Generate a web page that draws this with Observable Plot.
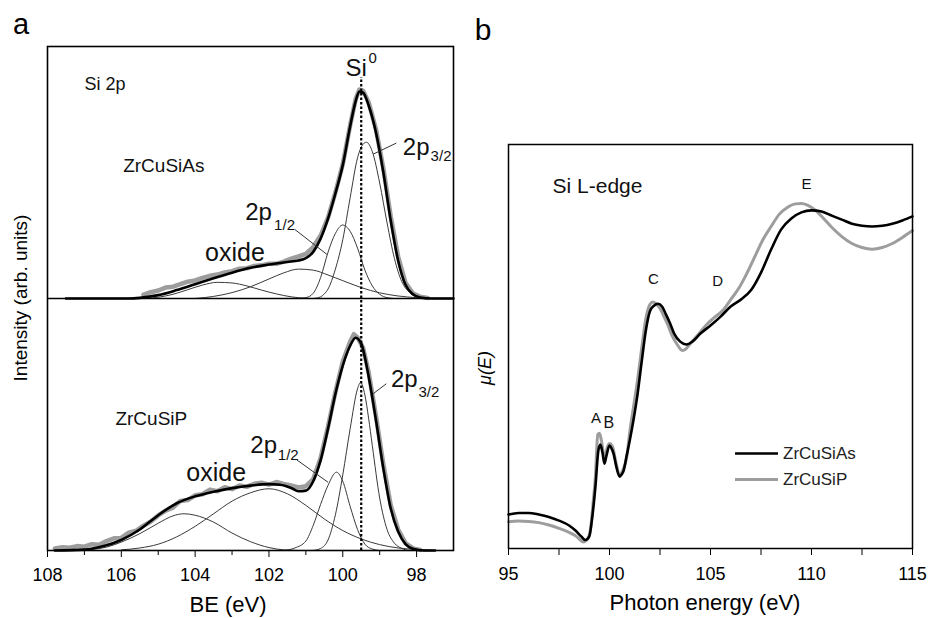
<!DOCTYPE html>
<html><head><meta charset="utf-8">
<script src="https://cdn.jsdelivr.net/npm/d3@7"></script>
<script src="https://cdn.jsdelivr.net/npm/@observablehq/plot@0.6"></script>
<style>
body{margin:0;background:#fff;}
#wrap{position:relative;width:929px;height:618px;overflow:hidden;font-family:"Liberation Sans",Arial,sans-serif;background:#fff;}
#wrap svg{position:absolute;top:0;}
</style></head><body><div id="wrap"></div>
<script>
const FONT = '"Liberation Sans", Arial, sans-serif';

// ---------- tick labels ----------
const beTicks = [108, 106, 104, 102, 100, 98];
const beMinorTicks = [107, 105, 103, 101, 99];
const peTicks = [95, 100, 105, 110, 115];
const peMinorTicks = [97.5, 102.5, 107.5, 112.5];
const samples = ["ZrCuSiAs", "ZrCuSiP"];
const si0BE = 99.5;

// ---------- panel a: XPS Si 2p, [BE (eV), intensity] ----------
const asData = [[105.4,0.018],[105.2,0.03],[105.0,0.038],[104.8,0.052],[104.6,0.056],[104.4,0.068],[104.2,0.08],[104.0,0.086],[103.8,0.098],[103.6,0.108],[103.4,0.114],[103.2,0.124],[103.0,0.13],[102.8,0.142],[102.6,0.144],[102.4,0.155],[102.2,0.158],[102.0,0.166],[101.8,0.165],[101.6,0.176],[101.4,0.19],[101.2,0.2],[101.0,0.212],[100.8,0.245],[100.6,0.3],[100.4,0.385],[100.2,0.505],[100.0,0.64],[99.8,0.825],[99.65,0.95],[99.55,0.995],[99.45,0.99],[99.3,0.935],[99.1,0.805],[98.9,0.62],[98.7,0.39],[98.5,0.2],[98.3,0.075],[98.1,0.025],[97.9,0.008],[97.7,0.003]];
const asEnvelope = [[107.5,0],[106.5,0],[105.8,0],[105.5,0.003],[105.0,0.016],[104.5,0.04],[104.0,0.068],[103.5,0.096],[103.0,0.123],[102.5,0.146],[102.0,0.162],[101.5,0.174],[101.2,0.181],[101.0,0.192],[100.8,0.222],[100.6,0.285],[100.4,0.38],[100.2,0.5],[100.0,0.635],[99.8,0.82],[99.65,0.94],[99.55,0.985],[99.45,0.98],[99.3,0.92],[99.1,0.79],[98.9,0.6],[98.7,0.37],[98.5,0.18],[98.3,0.065],[98.1,0.02],[97.9,0.005],[97.6,0],[97.0,0]];
const as2p32 = [[100.8,0],[100.6,0.008],[100.5,0.022],[100.4,0.045],[100.2,0.14],[100.0,0.28],[99.8,0.48],[99.6,0.67],[99.45,0.735],[99.36,0.744],[99.2,0.7],[99.0,0.55],[98.8,0.36],[98.6,0.19],[98.4,0.08],[98.2,0.03],[98.0,0.008],[97.8,0]];
const as2p12 = [[101.2,0],[101.0,0.004],[100.8,0.025],[100.6,0.1],[100.4,0.22],[100.2,0.31],[100.0,0.35],[99.8,0.32],[99.6,0.24],[99.4,0.135],[99.2,0.06],[99.0,0.02],[98.8,0.004],[98.6,0]];
const asOxideA = [[104.0,0],[103.5,0.01],[103.0,0.028],[102.5,0.056],[102.0,0.093],[101.6,0.122],[101.2,0.14],[100.8,0.135],[100.4,0.112],[100.0,0.085],[99.5,0.052],[99.0,0.027],[98.5,0.012],[98.0,0.004],[97.5,0]];
const asOxideB = [[105.3,0],[105.0,0.006],[104.6,0.02],[104.2,0.042],[103.8,0.064],[103.4,0.077],[103.0,0.074],[102.6,0.06],[102.2,0.04],[101.8,0.022],[101.4,0.008],[101.0,0.001],[100.8,0]];

const pData = [[107.8,0.01],[107.6,0.016],[107.4,0.013],[107.2,0.021],[107.0,0.018],[106.8,0.03],[106.6,0.027],[106.4,0.045],[106.2,0.058],[106.0,0.06],[105.8,0.085],[105.6,0.094],[105.4,0.118],[105.2,0.138],[105.0,0.167],[104.8,0.19],[104.6,0.204],[104.4,0.236],[104.2,0.24],[104.0,0.263],[103.8,0.268],[103.6,0.29],[103.4,0.282],[103.2,0.301],[103.0,0.292],[102.8,0.31],[102.6,0.303],[102.4,0.318],[102.2,0.323],[102.0,0.314],[101.8,0.326],[101.6,0.317],[101.4,0.31],[101.2,0.3],[101.0,0.306],[100.8,0.34],[100.6,0.44],[100.4,0.59],[100.2,0.755],[100.0,0.9],[99.8,0.995],[99.7,1.03],[99.6,1.015],[99.45,0.965],[99.3,0.85],[99.1,0.64],[98.9,0.41],[98.7,0.215],[98.5,0.1],[98.3,0.035],[98.1,0.01],[97.9,0.003]];
const pEnvelope = [[107.8,0],[107.0,0.004],[106.5,0.02],[106.0,0.05],[105.5,0.1],[105.0,0.168],[104.5,0.225],[104.0,0.258],[103.5,0.28],[103.0,0.297],[102.5,0.309],[102.0,0.316],[101.7,0.313],[101.4,0.298],[101.2,0.282],[101.0,0.285],[100.8,0.33],[100.6,0.43],[100.4,0.58],[100.2,0.745],[100.0,0.88],[99.8,0.975],[99.65,1.013],[99.5,0.985],[99.3,0.83],[99.1,0.62],[98.9,0.39],[98.7,0.2],[98.5,0.09],[98.3,0.03],[98.1,0.008],[97.8,0],[97.5,0]];
const p2p32 = [[100.8,0],[100.6,0.01],[100.4,0.05],[100.2,0.17],[100.0,0.36],[99.8,0.58],[99.6,0.77],[99.52,0.8],[99.4,0.74],[99.3,0.63],[99.2,0.5],[99.0,0.25],[98.8,0.1],[98.6,0.035],[98.4,0.01],[98.2,0]];
const p2p12 = [[101.6,0],[101.3,0.012],[101.0,0.045],[100.8,0.12],[100.6,0.22],[100.4,0.31],[100.17,0.373],[100.0,0.33],[99.8,0.21],[99.6,0.1],[99.4,0.03],[99.2,0.007],[99.0,0]];
const pOxideA = [[106.0,0.003],[105.5,0.012],[105.0,0.03],[104.5,0.065],[104.0,0.115],[103.5,0.175],[103.0,0.235],[102.5,0.275],[102.0,0.294],[101.5,0.27],[101.0,0.215],[100.5,0.15],[100.0,0.095],[99.5,0.055],[99.0,0.028],[98.5,0.012],[98.0,0.005],[97.5,0]];
const pOxideB = [[107.2,0],[106.8,0.005],[106.4,0.016],[106.0,0.04],[105.5,0.08],[105.0,0.13],[104.6,0.165],[104.3,0.175],[104.0,0.168],[103.5,0.135],[103.0,0.083],[102.5,0.042],[102.0,0.014],[101.6,0.003],[101.2,0]];

// ---------- panel b: Si L-edge XANES, [photon energy (eV), mu(E)] ----------
const xanesAs = [[95.0,0.084],[95.5,0.088],[96.0,0.088],[96.5,0.084],[97.0,0.078],[97.5,0.069],[98.0,0.057],[98.3,0.045],[98.6,0.03],[98.8,0.021],[99.0,0.03],[99.15,0.079],[99.3,0.151],[99.45,0.243],[99.55,0.257],[99.65,0.238],[99.75,0.21],[99.85,0.23],[100.0,0.255],[100.1,0.248],[100.2,0.235],[100.35,0.2],[100.5,0.178],[100.6,0.183],[100.7,0.193],[100.85,0.23],[101.0,0.267],[101.2,0.322],[101.4,0.386],[101.6,0.465],[101.8,0.54],[102.0,0.587],[102.2,0.601],[102.4,0.606],[102.6,0.599],[102.8,0.579],[103.0,0.557],[103.2,0.532],[103.5,0.512],[103.8,0.505],[104.1,0.512],[104.5,0.532],[105.0,0.552],[105.5,0.574],[106.0,0.599],[106.5,0.616],[107.0,0.639],[107.5,0.683],[108.0,0.74],[108.5,0.79],[109.0,0.817],[109.5,0.832],[110.0,0.837],[110.5,0.834],[111.0,0.824],[111.5,0.814],[112.0,0.804],[112.5,0.799],[113.0,0.797],[113.5,0.799],[114.0,0.804],[114.5,0.812],[115.0,0.822]];
const xanesP = [[95.0,0.066],[95.5,0.068],[96.0,0.067],[96.5,0.064],[97.0,0.058],[97.5,0.05],[98.0,0.04],[98.3,0.032],[98.5,0.024],[98.7,0.016],[98.9,0.022],[99.05,0.045],[99.2,0.119],[99.3,0.176],[99.42,0.282],[99.5,0.285],[99.6,0.267],[99.75,0.225],[99.9,0.252],[100.0,0.26],[100.15,0.252],[100.3,0.218],[100.5,0.181],[100.65,0.193],[100.85,0.225],[101.0,0.287],[101.2,0.354],[101.4,0.421],[101.6,0.498],[101.8,0.569],[102.0,0.604],[102.15,0.61],[102.3,0.606],[102.5,0.594],[102.7,0.574],[102.9,0.552],[103.1,0.527],[103.35,0.505],[103.6,0.49],[103.8,0.495],[104.0,0.507],[104.4,0.53],[104.8,0.554],[105.2,0.572],[105.6,0.589],[106.0,0.616],[106.4,0.644],[106.8,0.681],[107.2,0.723],[107.6,0.765],[108.0,0.797],[108.4,0.827],[108.8,0.844],[109.2,0.853],[109.5,0.854],[109.8,0.85],[110.2,0.837],[110.6,0.817],[111.0,0.795],[111.5,0.772],[112.0,0.755],[112.5,0.745],[113.0,0.741],[113.5,0.745],[114.0,0.755],[114.5,0.77],[115.0,0.787]];

// ---------- helpers ----------
const rows = (arr, off = 0) => arr.map(([x, v]) => ({x, y: v + off}));
function label(s, x, y, o = {}) {
  return Plot.text([s], {x: () => x, y: () => y, text: d => d, fontSize: 17, textAnchor: "middle", fill: "#111", ...o});
}
function leader(x1, y1, x2, y2) {
  return Plot.link([0], {x1: () => x1, y1: () => y1, x2: () => x2, y2: () => y2, stroke: "#333", strokeWidth: 1});
}
const UP = 1.2; // vertical offset of the upper (ZrCuSiAs) spectrum
const comp = {x: "x", y: "y", stroke: "#3a3a3a", strokeWidth: 1, curve: "monotone-x"};
const env = {x: "x", y: "y", stroke: "#000", strokeWidth: 2.6, curve: "monotone-x"};
const raw = {x: "x", y: "y", stroke: "#9d9d9d", strokeWidth: 4.5, strokeLinejoin: "round"};

const wrap = document.getElementById("wrap");

// ---------- panel a ----------
const plotA = Plot.plot({
  width: 470, height: 618,
  marginLeft: 47, marginRight: 17, marginTop: 46, marginBottom: 68,
  style: {fontFamily: FONT, fontSize: "18px", color: "#000", background: "transparent"},
  x: {domain: [108, 97], label: null},
  y: {domain: [0, 2.4], axis: null, label: null},
  marks: [
    Plot.line(rows(asData, UP), raw),
    Plot.line(rows(pData), raw),
    Plot.line(rows(asOxideB, UP), comp),
    Plot.line(rows(asOxideA, UP), comp),
    Plot.line(rows(as2p12, UP), comp),
    Plot.line(rows(as2p32, UP), comp),
    Plot.line(rows(pOxideB), comp),
    Plot.line(rows(pOxideA), comp),
    Plot.line(rows(p2p12), comp),
    Plot.line(rows(p2p32), comp),
    Plot.line(rows(asEnvelope, UP), env),
    Plot.line(rows(pEnvelope), env),
    Plot.ruleX([si0BE], {y1: 0, y2: 2.252, stroke: "#000", strokeWidth: 2.2, strokeDasharray: "2.5,2"}),
    Plot.ruleY([UP], {stroke: "#000", strokeWidth: 1.6}),
    Plot.frame({stroke: "#000", strokeWidth: 1.6}),
    Plot.axisX({ticks: beTicks, tickSize: 7, tickPadding: 11, fontSize: 18, label: null, stroke: "#000"}),
    Plot.axisX({ticks: beMinorTicks, tickSize: 5, tickFormat: () => "", label: null, stroke: "#000"}),
    // upper annotations
    label("Si 2p", 107.0, 2.219, {textAnchor: "start", fontSize: 18}),
    label(samples[0], 105.95, 1.833, {textAnchor: "start", fontSize: 19}),
    label("oxide", 102.92, 1.416, {fontSize: 25}),
    label("2p", 101.92, 1.61, {textAnchor: "end", fontSize: 24}),
    label("1/2", 101.86, 1.55, {textAnchor: "start", fontSize: 15}),
    leader(101.30, 1.529, 100.43, 1.41),
    label("Si", 99.35, 2.297, {textAnchor: "end", fontSize: 24}),
    label("0", 99.30, 2.342, {textAnchor: "start", fontSize: 15}),
    label("2p", 97.65, 1.921, {textAnchor: "end", fontSize: 24}),
    label("3/2", 97.62, 1.877, {textAnchor: "start", fontSize: 15}),
    leader(98.55, 1.94, 99.18, 1.887),
    // lower annotations
    label(samples[1], 106.16, 0.629, {textAnchor: "start", fontSize: 19}),
    label("oxide", 103.43, 0.371, {fontSize: 25}),
    label("2p", 101.78, 0.503, {textAnchor: "end", fontSize: 24}),
    label("1/2", 101.76, 0.455, {textAnchor: "start", fontSize: 15}),
    leader(101.25, 0.432, 100.40, 0.325),
    label("2p", 97.97, 0.813, {textAnchor: "end", fontSize: 24}),
    label("3/2", 97.95, 0.756, {textAnchor: "start", fontSize: 15}),
    leader(98.82, 0.794, 99.18, 0.746)
  ]
});
plotA.style.left = "0px";
wrap.appendChild(plotA);

// ---------- panel b ----------
const plotB = Plot.plot({
  width: 469, height: 618,
  marginLeft: 48, marginRight: 17, marginTop: 144, marginBottom: 70,
  style: {fontFamily: FONT, fontSize: "18px", color: "#000", background: "transparent"},
  x: {domain: [95, 115], label: null},
  y: {domain: [0, 1], axis: null, label: null},
  marks: [
    Plot.line(rows(xanesP), {x: "x", y: "y", stroke: "#9d9d9d", strokeWidth: 3, curve: "monotone-x"}),
    Plot.line(rows(xanesAs), {x: "x", y: "y", stroke: "#000", strokeWidth: 2.6, curve: "monotone-x"}),
    Plot.frame({stroke: "#000", strokeWidth: 1.5}),
    Plot.axisX({ticks: peTicks, tickSize: 7, tickPadding: 12, fontSize: 18, label: null, stroke: "#000"}),
    Plot.axisX({ticks: peMinorTicks, tickSize: 7, tickFormat: () => "", label: null, stroke: "#000"}),
    label("Si L-edge", 97.18, 0.896, {textAnchor: "start", fontSize: 21}),
    label("A", 99.33, 0.323, {fontSize: 15}),
    label("B", 99.97, 0.311, {fontSize: 16}),
    label("C", 102.18, 0.666, {fontSize: 15}),
    label("D", 105.35, 0.661, {fontSize: 15}),
    label("E", 109.75, 0.903, {fontSize: 15})
  ]
});
plotB.style.left = "460px";
wrap.appendChild(plotB);

// ---------- titles, panel letters, legend ----------
const ns = "http://www.w3.org/2000/svg";
const ov = document.createElementNS(ns, "svg");
ov.setAttribute("width", 929); ov.setAttribute("height", 618);
ov.style.left = "0px";
ov.style.fontFamily = FONT;
ov.innerHTML = `
  <text x="21" y="34" font-size="29" text-anchor="middle">a</text>
  <text x="483" y="40" font-size="30" text-anchor="middle">b</text>
  <text x="228" y="612" font-size="22" text-anchor="middle">BE (eV)</text>
  <text x="705" y="610" font-size="22" text-anchor="middle">Photon energy (eV)</text>
  <text transform="translate(27,298) rotate(-90)" font-size="19" text-anchor="middle">Intensity (arb. units)</text>
  <text transform="translate(491,368) rotate(-90)" font-size="18" font-style="italic" text-anchor="middle">μ(E)</text>
  <line x1="735" x2="778" y1="453.5" y2="453.5" stroke="#000" stroke-width="2.6"/>
  <line x1="735" x2="778" y1="479.5" y2="479.5" stroke="#9d9d9d" stroke-width="3"/>
  <text x="783" y="459" font-size="17" fill="#222">${samples[0]}</text>
  <text x="783" y="485" font-size="17" fill="#222">${samples[1]}</text>
`;
wrap.appendChild(ov);
</script>
</body></html>
